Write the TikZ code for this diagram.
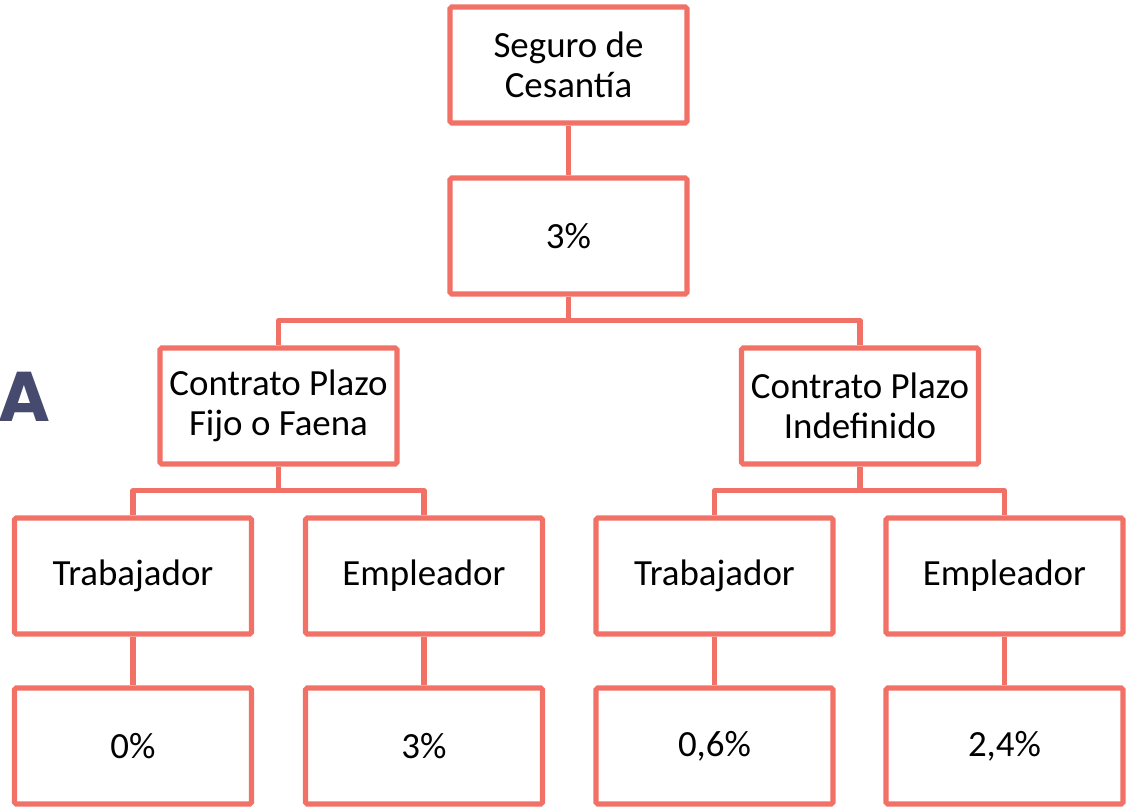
\documentclass[tikz,border=0pt]{standalone}
\usepackage{fontspec}
\setmainfont{Carlito}
\newfontfamily\headfont{Poppins}
\definecolor{salmon}{RGB}{242,113,102}
\definecolor{navy}{RGB}{71,74,111}

\begin{document}
\begin{tikzpicture}[
  box/.style={draw=salmon,line width=2.9pt,fill=white,rounded corners=1pt,
    minimum width=4.74cm,minimum height=2.32cm,align=center,
    font=\fontsize{21}{23}\selectfont},
  link/.style={draw=salmon,line width=2.9pt,line join=round}]
\useasboundingbox (0,0) rectangle (22.68,-16.22);

% fragment of the slide title behind the chart
\node[navy,anchor=east,inner sep=0pt,font=\headfont\bfseries\fontsize{40}{42}\selectfont] (title) at (1.02,-7.94) {A};

\node[box] (seguro) at (11.37,-1.30) {Seguro de\\Cesantía};
\node[box] (pct)    at (11.37,-4.72) {3\%};

\node[box] (fijo)  at (5.57,-8.12)  {Contrato Plazo\\Fijo o Faena};
\node[box] (indef) at (17.20,-8.12) {Contrato Plazo\\Indefinido};

\node[box] (trabA) at (2.66,-11.52)  {Trabajador};
\node[box] (empA)  at (8.48,-11.52)  {Empleador};
\node[box] (trabB) at (14.29,-11.52) {Trabajador};
\node[box] (empB)  at (20.09,-11.52) {Empleador};

\node[box] (pctTA) at (2.66,-14.92)  {0\%};
\node[box] (pctEA) at (8.48,-14.92)  {3\%};
\node[box] (pctTB) at (14.29,-14.92) {0,6\%};
\node[box] (pctEB) at (20.09,-14.92) {2,4\%};

\draw[link] (seguro) -- (pct);
\draw[link] (pct.south) -- ++(0,-0.48) -| (fijo.north);
\draw[link] (pct.south) -- ++(0,-0.48) -| (indef.north);

\draw[link] (fijo.south) -- ++(0,-0.48) -| (trabA.north);
\draw[link] (fijo.south) -- ++(0,-0.48) -| (empA.north);
\draw[link] (indef.south) -- ++(0,-0.48) -| (trabB.north);
\draw[link] (indef.south) -- ++(0,-0.48) -| (empB.north);

\draw[link] (trabA) -- (pctTA);
\draw[link] (empA)  -- (pctEA);
\draw[link] (trabB) -- (pctTB);
\draw[link] (empB)  -- (pctEB);
\end{tikzpicture}
\end{document}
